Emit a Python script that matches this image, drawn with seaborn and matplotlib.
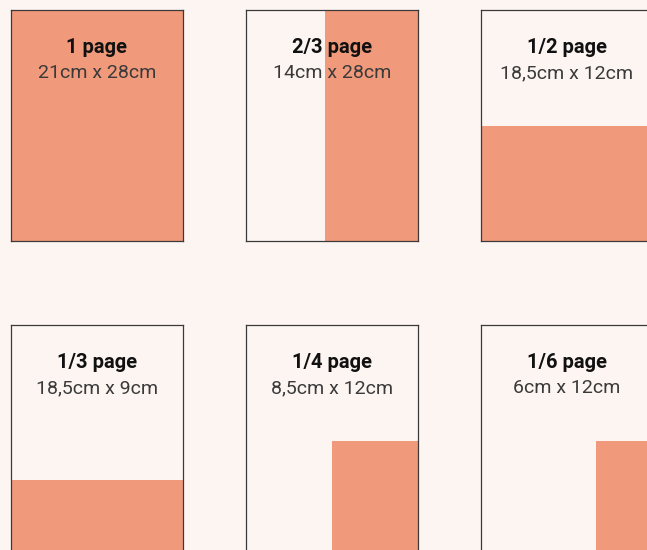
"""plot.py - ad size overview (page fractions)"""
import matplotlib
matplotlib.use("Agg")
import matplotlib.pyplot as plt
import seaborn as sns
import pandas as pd

# Data
titles = ["1 page", "2/3 page", "1/2 page", "1/3 page", "1/4 page", "1/6 page"]
sizes = ["21cm x 28cm", "14cm x 28cm", "18,5cm x 12cm",
         "18,5cm x 9cm", "8,5cm x 12cm", "6cm x 12cm"]
fill_width = [1.0, 0.54, 1.0, 1.0, 0.5, 0.33]    # share of page width (right-aligned)
fill_height = [1.0, 1.0, 0.5, 0.33, 0.5, 0.5]    # share of page height (bottom-aligned)

BG = "#fdf5f2"
ORANGE = "#f19a7b"
EDGE = "#3a3a3a"

sns.set_theme(style="white")
plt.rcParams["font.family"] = ["Roboto", "DejaVu Sans"]

W, H = 647, 550
fig = plt.figure(figsize=(W / 100, H / 100), dpi=100, facecolor=BG)

# panel layout in pixels
col_left = [11, 246, 481]
row_top = [10, 325]
pw, ph = 172, 231

for i, (title, size, fw, fh) in enumerate(zip(titles, sizes, fill_width, fill_height)):
    r, c = divmod(i, 3)
    ax = fig.add_axes([col_left[c] / W, 1 - (row_top[r] + ph) / H, pw / W, ph / H])
    ax.set_facecolor(BG)

    df = pd.DataFrame({"x": [1 - fw / 2], "share": [fh]})
    sns.barplot(data=df, x="x", y="share", native_scale=True, width=fw,
                color=ORANGE, saturation=1, linewidth=0, ax=ax)

    ax.set_xlim(0, 1)
    ax.set_ylim(0, 1)
    ax.set_xticks([])
    ax.set_yticks([])
    ax.set_xlabel("")
    ax.set_ylabel("")
    for sp in ax.spines.values():
        sp.set_visible(True)
        sp.set_color(EDGE)
        sp.set_linewidth(0.9)

    ax.text(0.5, 0.815, title, transform=ax.transAxes, ha="center", va="baseline",
            fontsize=14.5, fontweight="bold", color="#111111")
    ax.text(0.5, 0.705, size, transform=ax.transAxes, ha="center", va="baseline",
            fontsize=14, fontweight="normal", color="#3a3a3a")

fig.savefig("out.png", dpi=100, facecolor=BG)
plt.close(fig)
